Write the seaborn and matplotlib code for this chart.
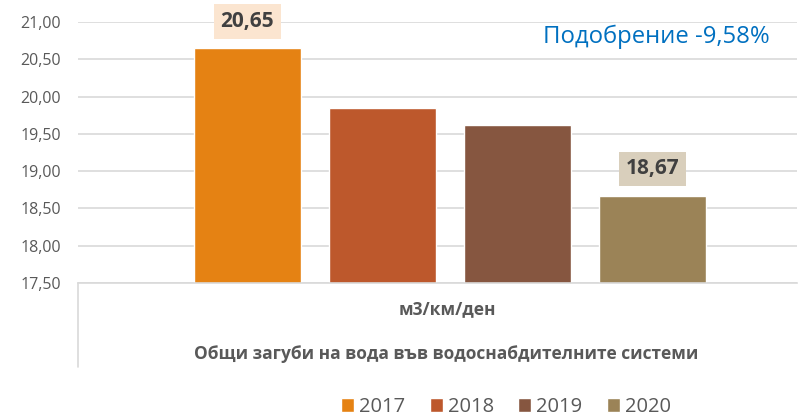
import matplotlib
matplotlib.use("Agg")
import matplotlib.pyplot as plt
from matplotlib.ticker import FuncFormatter, MultipleLocator
from matplotlib.lines import Line2D
import pandas as pd
import seaborn as sns

# data
years = ["2017", "2018", "2019", "2020"]
values = [20.65, 19.85, 19.62, 18.67]
labelled = ["2017", "2020"]
unit_label = "м3/км/ден"
category_label = "Общи загуби на вода във водоснабдителните системи"
note = "Подобрение -9,58%"

# settings
sns.set_style("white")
plt.rcParams['font.family'] = ['Open Sans', 'DejaVu Sans']

colors = ['#E58213', '#BD582C', '#865640', '#9B8357']
label_boxes = {"2017": '#FBE5D0', "2020": '#D9CFBC'}
grey = '#595959'

df = pd.DataFrame({'cat': [category_label] * len(years), 'year': years, 'value': values})

fig = plt.figure(figsize=(8.03, 4.18), dpi=100)
ax = fig.add_axes([78 / 803, 135 / 418, 719 / 803, 261 / 418])
sns.barplot(data=df, x='cat', y='value', hue='year', palette=colors, width=0.8,
            gap=0.207, saturation=1, legend=True, ax=ax, zorder=2)

ax.set_ylim(17.5, 21.0)
ax.set_xlim(-0.551, 0.514)
ax.yaxis.set_major_locator(MultipleLocator(0.5))
ax.yaxis.set_major_formatter(FuncFormatter(lambda v, p: f"{v:.2f}".replace('.', ',')))
ax.grid(axis='y', color='#D9D9D9', lw=1.2, zorder=0)
ax.set_axisbelow(True)
ax.tick_params(axis='y', length=0, labelsize=11.5, labelcolor=grey, pad=12)
ax.set_xticks([])
ax.set_xlabel('')
ax.set_ylabel('')
for s in ['top', 'right', 'left']:
    ax.spines[s].set_visible(False)
ax.spines['bottom'].set_color('#D9D9D9')
ax.spines['bottom'].set_linewidth(1.2)

# data labels
for bar, yr, v in zip(ax.patches, years, values):
    if yr in labelled:
        ax.text(bar.get_x() + bar.get_width() / 2, v + 0.36, f"{v:.2f}".replace('.', ','),
                ha='center', va='center', fontsize=15, fontweight='bold', color='#404040',
                bbox=dict(boxstyle='square,pad=0.33', fc=label_boxes[yr], ec='none'))

ax.text(0.804, 0.945, note, transform=ax.transAxes, ha='center', va='center',
        fontsize=17.2, color='#0070C0')

# multi-level category axis
fig.add_artist(Line2D([78 / 803, 78 / 803], [1 - 283 / 418, 1 - 367 / 418], color='#D9D9D9', lw=1.2))
fig.text(447 / 803, 1 - 309 / 418, unit_label, ha='center', va='center',
         fontsize=12.5, fontweight='bold', color=grey)
fig.text(446 / 803, 1 - 354 / 418, category_label, ha='center', va='center',
         fontsize=12.5, fontweight='bold', color=grey)

handles, labs = ax.get_legend_handles_labels()
ax.get_legend().remove()
fig.legend(handles, labs, loc='center', bbox_to_anchor=(506 / 803, 1 - 407 / 418), ncol=4,
           frameon=False, fontsize=14.5, handlelength=0.65, handleheight=0.65,
           handletextpad=0.25, columnspacing=1.2, labelcolor=grey)

fig.savefig('out.png', dpi=100)
